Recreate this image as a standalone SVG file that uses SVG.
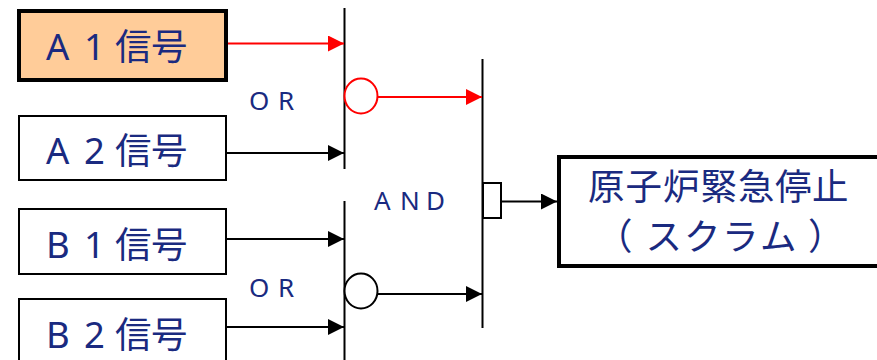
<svg xmlns="http://www.w3.org/2000/svg" width="877" height="360" viewBox="0 0 877 360">
<style>
text{font-family:"Noto Sans","Noto Sans CJK JP",sans-serif;fill:#1a2a80}
.lb{font-size:36.500px}
.op{font-size:26px}
.box{fill:#fff;stroke:#000;stroke-width:2}
.thick{stroke-width:4}
.k{stroke:#000;stroke-width:2;fill:none}
.r{stroke:#f00;stroke-width:2;fill:none}
.v{stroke:#000;stroke-width:2;fill:none}
</style>
<defs>
<marker id="ak" markerUnits="userSpaceOnUse" markerWidth="16" markerHeight="16" refX="16" refY="8" orient="auto"><path d="M0 0L16 8L0 16Z" fill="#000"/></marker>
<marker id="ar" markerUnits="userSpaceOnUse" markerWidth="16" markerHeight="16" refX="16" refY="8" orient="auto"><path d="M0 0L16 8L0 16Z" fill="#f00"/></marker>
</defs>
<g id="connectors">
<path class="v" d="M344.500 8V169M344.500 201V360M482.500 59V328"/>
<path class="r" marker-end="url(#ar)" d="M228 43.500H344"/>
<path class="k" marker-end="url(#ak)" d="M227 153H344"/>
<path class="k" marker-end="url(#ak)" d="M227 239H344"/>
<path class="k" marker-end="url(#ak)" d="M227 327H344"/>
<path class="r" marker-end="url(#ar)" d="M377 97H482"/>
<path class="k" marker-end="url(#ak)" d="M377 294H482"/>
<path class="k" marker-end="url(#ak)" d="M501 201.500H557"/>
</g>
<g id="or-a-circle"><ellipse cx="361" cy="96" rx="16.500" ry="17.500" fill="#fff" stroke="#f00" stroke-width="2"/></g>
<g id="or-b-circle"><ellipse cx="361" cy="291" rx="16.500" ry="17.500" fill="#fff" stroke="#000" stroke-width="2"/></g>
<g id="and-output"><rect x="483" y="183" width="18" height="35" class="box"/></g>
<g id="a1"><rect x="19" y="11" width="207" height="69" class="box thick" style="fill:#fc9"/><text class="lb" y="60" x="46 70 84 115 151">A 1信号</text></g>
<g id="a2"><rect x="19" y="116" width="207" height="64" class="box"/><text class="lb" y="164" x="46 70 84 115 151">A 2信号</text></g>
<g id="b1"><rect x="19" y="209" width="207" height="65" class="box"/><text class="lb" y="258" x="46 70 84 115 151">B 1信号</text></g>
<g id="b2"><rect x="19" y="299" width="207" height="80" class="box"/><text class="lb" y="348" x="46 70 84 115 151">B 2信号</text></g>
<g id="scram"><rect x="559" y="157" width="330" height="109" class="box thick"/>
<text class="lb" y="200" x="588 625.500 663 700.500 738 775 812">原子炉緊急停止</text>
<text class="lb" y="250" x="596 645.500 684 722 760 808">（スクラム）</text></g>
<text id="or-a" class="op" y="110" x="249 278">OR</text>
<text id="or-b" class="op" y="297" x="249 278">OR</text>
<text id="and" class="op" y="210" x="374 400 426">AND</text>
</svg>
